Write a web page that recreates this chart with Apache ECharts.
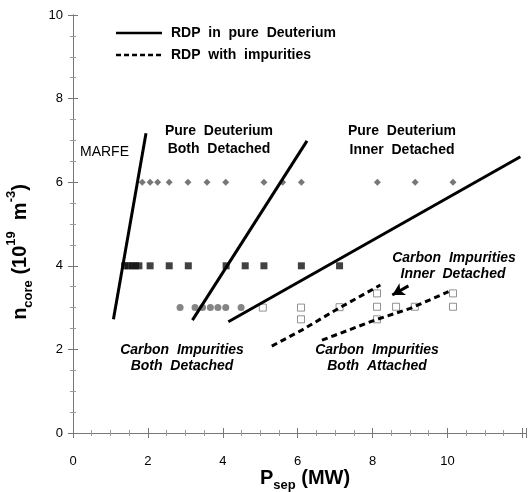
<!DOCTYPE html>
<html><head><meta charset="utf-8">
<script src="https://cdn.jsdelivr.net/npm/echarts@6/dist/echarts.min.js"></script>
<style>html,body{margin:0;padding:0;background:#fff}#c{width:529px;height:492px}</style>
</head><body><div id="c"></div>
<script>
// ---- data ----
const xTicks = [0, 2, 4, 6, 8, 10];
const yTicks = [0, 2, 4, 6, 8, 10];
const diamondX = [1.85, 2.06, 2.26, 2.57, 3.07, 3.58, 4.08, 5.10, 5.60, 6.10, 8.13, 9.14, 10.15];
const diamondY = 6;
const filledSqX = [1.38, 1.48, 1.58, 1.67, 1.76, 2.06, 2.57, 3.08, 4.09, 4.60, 5.10, 6.10, 7.12];
const filledSqY = 4;
const circleX = [2.86, 3.26, 3.46, 3.67, 3.87, 4.08, 4.49];
const circleY = 3.0;
const openSquares = [[5.07,3.0],[6.09,3.0],[6.09,2.72],[7.12,3.01],[8.12,3.34],[8.12,3.02],[8.12,2.72],[8.63,3.02],[9.13,3.02],[10.15,3.34],[10.15,3.02]];
const rdpMarfe = [[1.08,2.72],[1.95,7.17]];
const rdpBothDet = [[3.19,2.70],[6.25,6.99]];
const rdpInnerDet = [[4.15,2.66],[11.95,6.61]];
const rdpImpBothDet = [[5.31,2.08],[6.11,2.46],[7.09,2.98],[8.21,3.54]];
const rdpImpInner = [[6.65,2.22],[8.12,2.72],[9.01,2.98],[10.03,3.38]];
const arrowFromTo = [[8.96,3.52],[8.53,3.30]];

const FONT = '"Liberation Sans", Arial, Helvetica, sans-serif';
const chart = echarts.init(document.getElementById('c'), null, {renderer:'canvas'});
const axisCommon = {
  min: 0, interval: 2,
  axisLine: {show: true, lineStyle: {color: '#777', width: 1}},
  axisTick: {show: true, inside: true, length: 5, lineStyle: {color: '#777'}},
  minorTick: {show: true, splitNumber: 4, length: 3, lineStyle: {color: '#999'}},
  splitLine: {show: false}
};
const solid = (d) => ({type:'line', data:d, symbol:'none', lineStyle:{color:'#000', width:3}, z:3, animation:false});
const dashed = (d) => ({type:'line', data:d, symbol:'none', lineStyle:{color:'#000', width:3, type:[6,4]}, z:3, animation:false});

const txt = (x, y, text, style) => ({type:'text', x, y, z:10, style:Object.assign({text, font: 'bold 14px ' + FONT, fill:'#000', align:'center', verticalAlign:'middle'}, style||{})});

chart.setOption({
  animation: false,
  grid: {left: 73, right: 3, top: 15, bottom: 59},
  xAxis: [
    Object.assign({}, axisCommon, {type:'value', max: 12.1, position:'bottom',
      axisLabel: {margin: 22, fontSize: 13, color:'#000', fontFamily: FONT,
        formatter: v => xTicks.includes(v) ? String(v) : ''}}),
    Object.assign({}, axisCommon, {type:'value', max: 12.1, position:'top', axisLabel:{show:false}})
  ],
  yAxis: [
    Object.assign({}, axisCommon, {type:'value', max: 10, position:'left',
      axisLabel: {margin: 10, fontSize: 13, color:'#000', fontFamily: FONT,
        formatter: v => yTicks.includes(v) ? String(v) : ''}}),
    Object.assign({}, axisCommon, {type:'value', max: 10, position:'right', axisLabel:{show:false}})
  ],
  series: [
    {type:'scatter', data: diamondX.map(x => [x, diamondY]), symbol:'diamond', symbolSize:7, itemStyle:{color:'#555'}, z:2},
    {type:'scatter', data: filledSqX.map(x => [x, filledSqY]), symbol:'rect', symbolSize:7, itemStyle:{color:'#111'}, z:2},
    {type:'scatter', data: circleX.map(x => [x, circleY]), symbol:'circle', symbolSize:7, itemStyle:{color:'#666'}, z:2},
    {type:'scatter', data: openSquares, symbol:'rect', symbolSize:7, itemStyle:{color:'#fff', borderColor:'#777', borderWidth:1}, z:2},
    solid(rdpMarfe), solid(rdpBothDet), solid(rdpInnerDet),
    dashed(rdpImpBothDet), dashed(rdpImpInner),
    {type:'scatter', data:[], markLine:{silent:true, symbol:['none','arrow'], symbolSize:[10,12], label:{show:false},
      lineStyle:{color:'#000', width:3, type:'solid'},
      data:[[{coord: arrowFromTo[0]},{coord: arrowFromTo[1]}]]}}
  ],
  graphic: [
    // legend
    {type:'line', shape:{x1:116,y1:33,x2:162,y2:33}, style:{stroke:'#000', lineWidth:2.5}},
    {type:'line', shape:{x1:116,y1:55,x2:162,y2:55}, style:{stroke:'#000', lineWidth:2.5, lineDash:[5,3]}},
    txt(171, 33, 'RDP  in  pure  Deuterium', {align:'left'}),
    txt(171, 55, 'RDP  with  impurities', {align:'left'}),
    // annotations
    txt(80, 152, 'MARFE', {align:'left', font:'14px ' + FONT}),
    txt(219, 131, 'Pure  Deuterium'),
    txt(219, 149, 'Both  Detached'),
    txt(402, 131, 'Pure  Deuterium'),
    txt(402, 150, 'Inner  Detached'),
    txt(182, 350, 'Carbon  Impurities', {font:'italic bold 14px ' + FONT}),
    txt(182, 366, 'Both  Detached', {font:'italic bold 14px ' + FONT}),
    txt(377, 350, 'Carbon  Impurities', {font:'italic bold 14px ' + FONT}),
    txt(377, 366, 'Both  Attached', {font:'italic bold 14px ' + FONT}),
    txt(454, 258, 'Carbon  Impurities', {font:'italic bold 14px ' + FONT}),
    txt(453, 274, 'Inner  Detached', {font:'italic bold 14px ' + FONT}),
    // axis titles
    {type:'text', x:305, y:478, z:10, style:{
      text:'{b|P}{s|sep}{b| (MW)}', align:'center', verticalAlign:'middle',
      rich:{
        b:{font:'bold 20px ' + FONT, fill:'#000', lineHeight:28, verticalAlign:'middle'},
        s:{font:'bold 13px ' + FONT, fill:'#000', lineHeight:28, verticalAlign:'bottom'}
      }}},
    {type:'text', x:20, y:252, rotation: Math.PI/2, z:10, style:{
      text:'{b|n}{s|core}{b| (10}{p|19}{b|  m}{p|-3}{b|)}', align:'center', verticalAlign:'middle',
      rich:{
        b:{font:'bold 20px ' + FONT, fill:'#000', lineHeight:30, verticalAlign:'middle'},
        s:{font:'bold 13px ' + FONT, fill:'#000', lineHeight:30, verticalAlign:'bottom'},
        p:{font:'bold 13px ' + FONT, fill:'#000', lineHeight:30, verticalAlign:'top'}
      }}}
  ]
});
</script></body></html>
